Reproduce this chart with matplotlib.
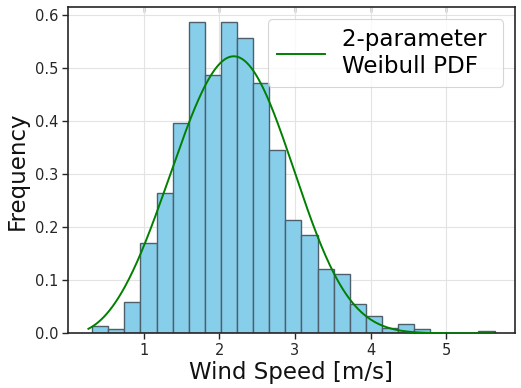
import numpy as np
import matplotlib
matplotlib.use("Agg")
import matplotlib.pyplot as plt

# Histogram data (density)
bin_start = 0.32
bin_width = 0.2128
freq = [0.013, 0.0075, 0.0585, 0.170, 0.264, 0.396, 0.587, 0.487, 0.587, 0.558,
        0.472, 0.345, 0.213, 0.185, 0.121, 0.111, 0.0547, 0.032, 0.0094, 0.017,
        0.0075, 0.0, 0.0, 0.0, 0.0038]

# Weibull fit parameters
k_shape = 3.3
c_scale = 2.445
x_min, x_max = 0.27, 5.62

edges = bin_start + bin_width * np.arange(len(freq))
x = np.linspace(x_min, x_max, 400)
pdf = (k_shape / c_scale) * (x / c_scale) ** (k_shape - 1) * np.exp(-(x / c_scale) ** k_shape)

fig = plt.figure(figsize=(5.21, 3.88), dpi=100)
ax = fig.add_axes([0.1305, 0.141, 0.858, 0.840])

ax.grid(True, color="#e3e3e3", linewidth=0.8, zorder=0)
ax.set_axisbelow(True)
ax.bar(edges, freq, width=bin_width, align="edge", color="skyblue",
       edgecolor="#4d5f6b", linewidth=1.0, zorder=2)
ax.plot(x, pdf, color="green", linewidth=1.4, label="2-parameter \nWeibull PDF", zorder=3)

ax.set_xlim(0.0, 5.91)
ax.set_ylim(0, 0.615)
ax.set_xticks([1, 2, 3, 4, 5])
ax.set_yticks([0.0, 0.1, 0.2, 0.3, 0.4, 0.5, 0.6])

for s in ax.spines.values():
    s.set_color("#262626")
    s.set_linewidth(1.2)

ax.tick_params(axis="both", direction="out", length=4, width=1, color="#262626",
               labelsize=10.5, labelcolor="#262626", pad=3)

top = ax.secondary_xaxis("top")
top.set_xticks([1, 2, 3, 4, 5])
top.tick_params(direction="in", length=3.5, width=1, color="#262626", labeltop=False)
top.spines["top"].set_visible(False)

ax.set_xlabel("Wind Speed [m/s]", fontsize=16.5, color="#111111", labelpad=2)
ax.set_ylabel("Frequency", fontsize=16.5, color="#111111", labelpad=4)

leg = ax.legend(loc="upper right", fontsize=16.6, frameon=True, fancybox=True,
                handlelength=2.07, handletextpad=0.77)
leg.get_frame().set_edgecolor("#cccccc")
leg.get_frame().set_linewidth(0.8)

fig.savefig("out.png", dpi=100)
